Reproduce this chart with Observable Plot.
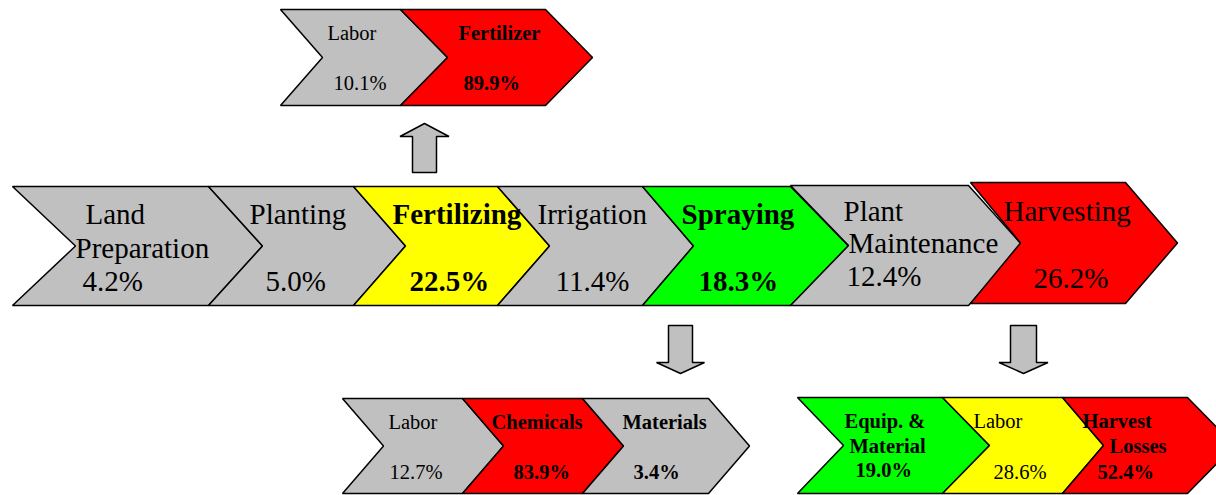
<!DOCTYPE html>
<html>
<head>
<meta charset="utf-8">
<script src="https://cdn.jsdelivr.net/npm/d3@7"></script>
<script src="https://cdn.jsdelivr.net/npm/@observablehq/plot@0.6"></script>
<style>
  html, body { margin: 0; padding: 0; background: #fff; }
  #chart svg { display: block; }
</style>
</head>
<body>
<div id="chart"></div>
<script>
// ---------- DATA ----------
const stages = ["Land\nPreparation", "Planting", "Fertilizing", "Irrigation", "Spraying", "Plant\nMaintenance", "Harvesting"];
const stageShare = [4.2, 5.0, 22.5, 11.4, 18.3, 12.4, 26.2];

const fertilizingParts = ["Labor", "Fertilizer"];
const fertilizingShare = [10.1, 89.9];

const sprayingParts = ["Labor", "Chemicals", "Materials"];
const sprayingShare = [12.7, 83.9, 3.4];

const harvestingParts = ["Equip. &\nMaterial", "Labor", "Harvest\nLosses"];
const harvestingShare = [19.0, 28.6, 52.4];

// ---------- STYLE ----------
const GRAY = "#c0c0c0", YELLOW = "#ffff00", GREEN = "#00ff00", RED = "#ff0000";
const stageColor = [GRAY, GRAY, YELLOW, GRAY, GREEN, GRAY, RED];
const stageBold = [false, false, true, false, true, false, false];
const fertColor = [GRAY, RED], fertBold = [[false, false], [true, true]];
const sprayColor = [GRAY, RED, GRAY], sprayBold = [[false, false], [true, true], [true, true]];
const harvColor = [GREEN, YELLOW, RED], harvBold = [[true, true], [false, false], [true, true]];

// ---------- LAYOUT (diagram geometry, pixels) ----------
// each chevron: [left, rightCorner, top, bottom, notchDepth, tipDepth]
const mainGeom = [
  [12, 208, 186, 305, 63, 54], [208, 353, 186, 305, 54, 52], [353, 497, 186, 305, 52, 52],
  [497, 642, 186, 305, 52, 51], [642, 790, 186, 305, 51, 58], [790, 968, 185, 305, 58, 54],
  [970, 1125, 182, 303, 50, 52]
];
const fertGeom = [[280, 400, 9, 105, 42, 47], [400, 545, 9, 105, 47, 47]];
const sprayGeom = [[342, 462, 398, 493, 41, 41], [462, 582, 398, 493, 41, 41], [582, 708, 398, 493, 41, 41]];
const harvGeom = [[797, 942, 397, 493, 46, 47], [942, 1062, 397, 493, 47, 41], [1062, 1187, 397, 493, 41, 47]];

// label anchors: name line positions and percentage position [x, baseline]
const mainNamePos = [[[85, 223], [75, 257]], [[249, 223]], [[392, 223]], [[537, 223]], [[681, 223]], [[843, 220], [848, 252]], [[1003, 220]]];
const mainPctPos = [[82, 290], [265, 290], [409, 290], [555, 290], [698, 290], [846, 285], [1033, 287]];
const fertNamePos = [[[327, 39]], [[458, 39]]];
const fertPctPos = [[333, 89], [463, 89]];
const sprayNamePos = [[[388, 428]], [[491, 428]], [[622, 428]]];
const sprayPctPos = [[389, 478], [513, 478], [633, 478]];
const harvNamePos = [[[844, 427], [849, 452]], [[973, 427]], [[1082, 427], [1109, 452]]];
const harvPctPos = [[855, 476], [993, 478], [1097, 478]];

// block arrows: [centerX, shaftHalf, headHalf, startY, headBaseY, tipY]
const arrows = [[424, 12, 24.5, 172, 136, 123], [680, 12, 24, 325, 362, 373], [1023, 13, 24.5, 325, 362, 373]];

// ---------- BUILD ----------
const polys = [];
let pid = 0;
function chevron(g, color) {
  const [L, R, T, B, n, t] = g, M = (T + B) / 2, id = pid++;
  [[L, T], [R, T], [R + t, M], [R, B], [L, B], [L + n, M]].forEach(([x, y]) => polys.push({id, x, y, color}));
}
function arrow(a) {
  const [cx, s, h, y0, yb, yt] = a, id = pid++;
  [[cx - s, y0], [cx - s, yb], [cx - h, yb], [cx, yt], [cx + h, yb], [cx + s, yb], [cx + s, y0]]
    .forEach(([x, y]) => polys.push({id, x, y, color: GRAY}));
}
fertGeom.forEach((g, i) => chevron(g, fertColor[i]));
sprayGeom.forEach((g, i) => chevron(g, sprayColor[i]));
harvGeom.forEach((g, i) => chevron(g, harvColor[i]));
mainGeom.forEach((g, i) => chevron(g, stageColor[i]));
arrows.forEach(arrow);

const texts = [];
function labels(names, shares, namePos, pctPos, bold, size) {
  names.forEach((name, i) => {
    const b = Array.isArray(bold[i]) ? bold[i] : [bold[i], bold[i]];
    name.split("\n").forEach((line, j) => {
      const [x, y] = namePos[i][j];
      texts.push({text: line, x, y, bold: b[0], size});
    });
    const [x, y] = pctPos[i];
    texts.push({text: shares[i].toFixed(1) + "%", x, y, bold: b[1], size});
  });
}
labels(stages, stageShare, mainNamePos, mainPctPos, stageBold, 29);
labels(fertilizingParts, fertilizingShare, fertNamePos, fertPctPos, fertBold, 20.5);
labels(sprayingParts, sprayingShare, sprayNamePos, sprayPctPos, sprayBold, 20.5);
labels(harvestingParts, harvestingShare, harvNamePos, harvPctPos, harvBold, 20.5);

const textMark = (size, bold) => Plot.text(texts.filter(d => d.size === size && d.bold === bold), {
  x: "x", y: "y", text: "text", textAnchor: "start", lineAnchor: "bottom",
  fontFamily: "Liberation Serif", fontSize: size, fontWeight: bold ? "bold" : "normal", fill: "black"
});

const chart = Plot.plot({
  width: 1216, height: 495,
  margin: 0,
  x: {domain: [0, 1216], range: [0, 1216], axis: null},
  y: {domain: [0, 495], range: [0, 495], axis: null},
  color: {type: "identity"},
  style: {background: "white", overflow: "hidden"},
  marks: [
    Plot.line(polys, {x: "x", y: "y", z: "id", fill: "color", stroke: "black", strokeWidth: 1.5,
      curve: "linear-closed", strokeLinejoin: "miter"}),
    textMark(29, false), textMark(29, true),
    textMark(20.5, false), textMark(20.5, true)
  ]
});
document.getElementById("chart").appendChild(chart);
</script>
</body>
</html>
